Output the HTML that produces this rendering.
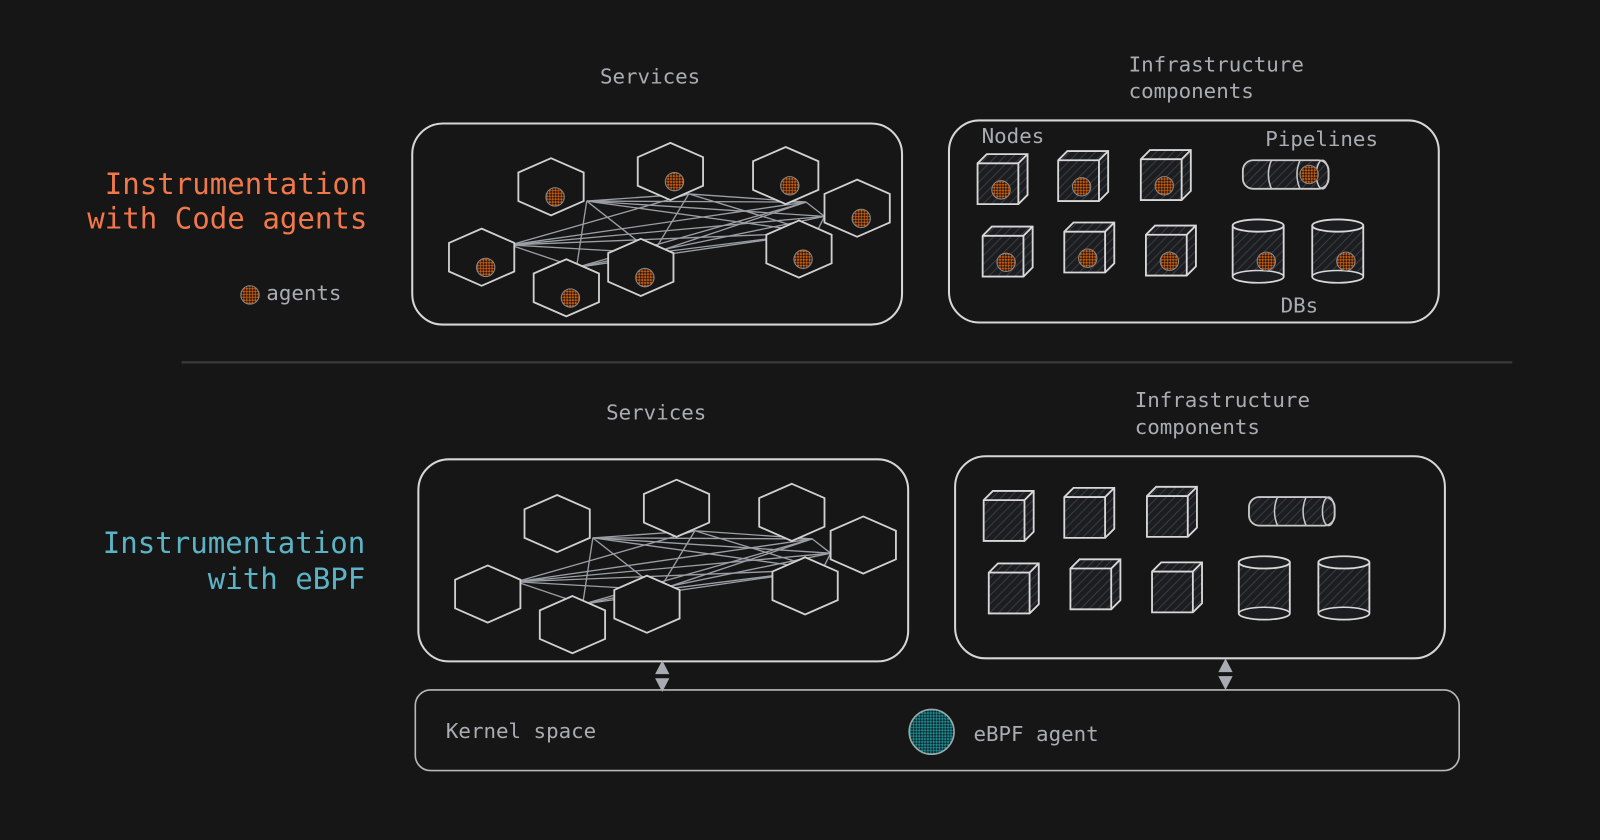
<!DOCTYPE html>
<html><head><meta charset="utf-8">
<style>
html,body{margin:0;padding:0;background:#161616;width:1600px;height:840px;overflow:hidden}
svg{display:block}
text{font-family:"DejaVu Sans Mono","Liberation Mono",monospace}
</style></head>
<body>
<svg id="s" width="1600" height="840" viewBox="0 0 1568 823" preserveAspectRatio="none" xmlns="http://www.w3.org/2000/svg">
<defs>
<pattern id="hatch" width="6" height="6" patternUnits="userSpaceOnUse" patternTransform="rotate(45)">
<rect width="6" height="6" fill="#1c1d20"/><line x1="0" y1="0" x2="0" y2="6" stroke="#3a3c40" stroke-width="2"/>
</pattern>
<pattern id="chkO" width="4" height="4" patternUnits="userSpaceOnUse" patternTransform="rotate(45)">
<rect width="4" height="4" fill="#c85a0c"/><rect width="2" height="2" fill="#2a1a10"/><rect x="2" y="2" width="2" height="2" fill="#2a1a10"/>
</pattern>
<pattern id="chkT" width="4" height="4" patternUnits="userSpaceOnUse" patternTransform="rotate(45)">
<rect width="4" height="4" fill="#1a8a94"/><rect width="2" height="2" fill="#102a2c"/><rect x="2" y="2" width="2" height="2" fill="#102a2c"/>
</pattern>
</defs>
<rect width="1568" height="823" fill="#161616"/>
<g id="g" fill="none" stroke="#d6d6d6" stroke-width="2"></g>
<g fill="#a9adb3" font-size="20.4">
<text x="588" y="82">Services</text>
<text x="1106" y="70">Infrastructure</text>
<text x="1106" y="96">components</text>
<text x="962" y="140">Nodes</text>
<text x="1240" y="143">Pipelines</text>
<text x="1255" y="306">DBs</text>
<text x="261" y="294">agents</text>
<text x="594" y="411">Services</text>
<text x="1112" y="399">Infrastructure</text>
<text x="1112" y="425">components</text>
<text x="437" y="723">Kernel space</text>
<text x="954" y="726">eBPF agent</text>
</g>
<g font-size="28.5" text-anchor="end">
<text x="360" y="190" fill="#f0784a">Instrumentation</text>
<text x="360" y="224" fill="#f0784a">with Code agents</text>
<text x="358" y="542" fill="#5bb4c6">Instrumentation</text>
<text x="358" y="577" fill="#5bb4c6">with eBPF</text>
</g>
</svg>
<script>
const g=document.getElementById('g');
function el(t,a){const e=document.createElementNS('http://www.w3.org/2000/svg',t);for(const k in a)e.setAttribute(k,a[k]);g.appendChild(e);return e;}
el('rect',{x:404,y:121,width:480,height:197,rx:30});
el('rect',{x:930,y:118,width:480,height:198,rx:30});
el('rect',{x:410,y:450,width:480,height:198,rx:30});
el('rect',{x:936,y:447,width:480,height:198,rx:30});
el('rect',{x:407,y:676,width:1023,height:79,rx:15,'stroke-width':1.6,stroke:'#b8b8b8'});
el('line',{x1:178,y1:355,x2:1482,y2:355,stroke:'#3c3c3c','stroke-width':2});
function arrow(x,y1,y2){el('polygon',{points:`${x},${y1} ${x-7},${(y1+y2)/2-2} ${x+7},${(y1+y2)/2-2}`,fill:'#a8acb2',stroke:'none'});
el('polygon',{points:`${x},${y2} ${x-7},${(y1+y2)/2+2} ${x+7},${(y1+y2)/2+2}`,fill:'#a8acb2',stroke:'none'});}
arrow(649,647,678);arrow(1201,645,676);
el('circle',{cx:913,cy:717,r:22,fill:'url(#chkT)',stroke:'#9aa','stroke-width':1.5});
el('circle',{cx:245,cy:289,r:9,fill:'url(#chkO)',stroke:'#888','stroke-width':1});
function services(dx,dy,agents){
 const hx=[[540,183],[657,168],[770,172],[840,204],[472,252],[628,262],[783,244],[555,282]];
 const pts=[[575,197],[675,190],[790,198],[808,212],[500,240],[640,248],[800,228],[565,262]];
 for(let i=0;i<pts.length;i++)for(let j=i+1;j<pts.length;j++){if((i*7+j*3)%4==0)continue;
  el('line',{x1:pts[i][0]+dx,y1:pts[i][1]+dy,x2:pts[j][0]+dx,y2:pts[j][1]+dy,stroke:'#9a9ea5','stroke-width':1.3});}
 hx.forEach(([x,y])=>{x+=dx;y+=dy;const w=32,h=28;
  el('polygon',{points:`${x},${y-h} ${x+w},${y-h/2} ${x+w},${y+h/2} ${x},${y+h} ${x-w},${y+h/2} ${x-w},${y-h/2}`,fill:'#161616',stroke:'#d0d0d0','stroke-width':1.8});
  if(agents)el('circle',{cx:x+4,cy:y+10,r:9,fill:'url(#chkO)',stroke:'#888','stroke-width':1});});
}
function infra(dx,dy,agents){
 const cubes=[[978,180],[1057,177],[1138,176],[983,251],[1063,247],[1143,250]];
 cubes.forEach(([x,y])=>{x+=dx;y+=dy;const s=20,o=9;
  el('polygon',{points:`${x-s},${y-s} ${x-s+o},${y-s-o} ${x+s+o},${y-s-o} ${x+s+o},${y+s-o} ${x+s},${y+s} ${x-s},${y+s}`,fill:'url(#hatch)',stroke:'#d8d8d8','stroke-width':1.8});
  el('polyline',{points:`${x-s},${y-s} ${x+s},${y-s} ${x+s+o},${y-s-o}`,stroke:'#d8d8d8','stroke-width':1.8});
  el('line',{x1:x+s,y1:y-s,x2:x+s,y2:y+s,stroke:'#d8d8d8','stroke-width':1.8});
  if(agents)el('circle',{cx:x+3,cy:y+6,r:9,fill:'url(#chkO)',stroke:'#888','stroke-width':1});});
 const px=1218+dx,py=157+dy;
 el('rect',{x:px,y:py,width:84,height:28,rx:10,fill:'url(#hatch)',stroke:'#c8c8c8','stroke-width':1.8});
 el('path',{d:`M${px+28},${py} q-6,14 0,28 M${px+56},${py} q-6,14 0,28`,stroke:'#c8c8c8','stroke-width':1.5});
 el('ellipse',{cx:px+78,cy:py+14,rx:6,ry:14,stroke:'#c8c8c8','stroke-width':1.5});
 if(agents)el('circle',{cx:px+65,cy:py+14,r:9,fill:'url(#chkO)',stroke:'#888','stroke-width':1});
 [[1208,215],[1286,215]].forEach(([x,y])=>{x+=dx;y+=dy;const w=50,h=56;
  el('path',{d:`M${x},${y+6} L${x},${y+h} A${w/2},6 0 0 0 ${x+w},${y+h} L${x+w},${y+6}`,fill:'url(#hatch)',stroke:'#d8d8d8','stroke-width':1.8});
  el('ellipse',{cx:x+w/2,cy:y+6,rx:w/2,ry:6,fill:'#1c1d20',stroke:'#d8d8d8','stroke-width':1.8});
  el('ellipse',{cx:x+w/2,cy:y+h,rx:w/2,ry:6,fill:'#1c1d20',stroke:'#d8d8d8','stroke-width':1.5});
  if(agents)el('circle',{cx:x+w/2+8,cy:y+h-15,r:9,fill:'url(#chkO)',stroke:'#888','stroke-width':1});});
}
services(0,0,true);services(6,330,false);
infra(0,0,true);infra(6,330,false);
</script>
</body></html>
